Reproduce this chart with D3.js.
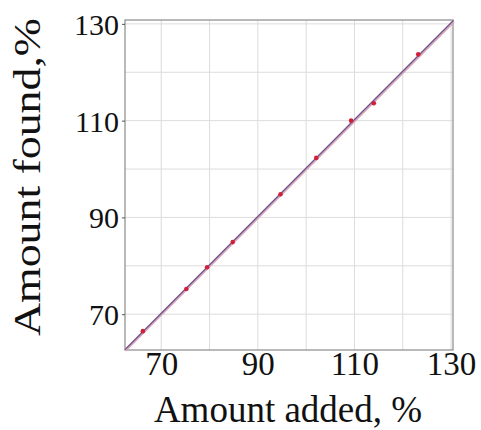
<!DOCTYPE html>
<html>
<head>
<meta charset="utf-8">
<script src="https://cdn.jsdelivr.net/npm/d3@7"></script>
<style>
  body { margin: 0; background: #fff; }
  text { font-family: "Liberation Serif", "Times New Roman", serif; fill: #111; }
</style>
</head>
<body>
<svg id="chart"></svg>
<script>
// measured points, % added vs % found
const added = [66.2, 75.2, 79.5, 84.8, 94.7, 102.1, 109.3, 114.0, 123.2];
const found = [66.5, 75.2, 79.7, 84.9, 94.8, 102.3, 110.0, 113.6, 123.7];
// ideal line and fitted line end points
const idealLine = [[62.5, 62.5], [130.5, 130.5]];
const fitLine = [[62.5, 62.7], [130.5, 130.7]];
const tickValues = [70, 90, 110, 130];
const gridValues = [70, 80, 90, 100, 110, 120, 130];

const width = 481, height = 430;
const margin = { top: 20, right: 28, bottom: 80, left: 125 };
const w = width - margin.left - margin.right;
const h = height - margin.top - margin.bottom;

const svg = d3.select("#chart").attr("width", width).attr("height", height);
const g = svg.append("g").attr("transform", `translate(${margin.left},${margin.top})`);

const x = d3.scaleLinear().domain([62.5, 130.4]).range([0, w]);
const y = d3.scaleLinear().domain([62.6, 130.8]).range([h, 0]);

// grid
g.append("g").selectAll("line").data(gridValues).enter().append("line")
  .attr("x1", d => x(d)).attr("x2", d => x(d)).attr("y1", 0).attr("y2", h)
  .attr("stroke", "#dcdcdc").attr("stroke-width", 1);
g.append("g").selectAll("line").data(gridValues).enter().append("line")
  .attr("y1", d => y(d)).attr("y2", d => y(d)).attr("x1", 0).attr("x2", w)
  .attr("stroke", "#dcdcdc").attr("stroke-width", 1);

// frame
g.append("rect").attr("width", w).attr("height", h)
  .attr("fill", "none").attr("stroke", "#8a8a8a").attr("stroke-width", 1.2);

// axes
const xAxis = g.append("g").attr("transform", `translate(0,${h})`)
  .call(d3.axisBottom(x).tickValues(tickValues).tickSize(0).tickPadding(0));
const yAxis = g.append("g")
  .call(d3.axisLeft(y).tickValues(tickValues).tickSize(3).tickPadding(3));
[xAxis, yAxis].forEach(a => {
  a.select(".domain").remove();
  a.selectAll("line").attr("stroke", "#555");
  a.selectAll("text").style("font-family", '"Liberation Serif", serif').attr("fill", "#111");
});
xAxis.selectAll("text").style("font-size", "33px").attr("dy", null).attr("y", 25);
yAxis.selectAll("text").style("font-size", "30px").attr("dy", "0.35em");

// lines
const line = d3.line().x(d => x(d[0])).y(d => y(d[1]));
g.append("path").datum(idealLine).attr("d", line)
  .attr("fill", "none").attr("stroke", "#d7a3b5").attr("stroke-width", 3);
g.append("path").datum(fitLine).attr("d", line)
  .attr("fill", "none").attr("stroke", "#5b4f8f").attr("stroke-width", 1.1);

// points
g.append("g").selectAll("circle").data(added).enter().append("circle")
  .attr("cx", d => x(d)).attr("cy", (d, i) => y(found[i])).attr("r", 2.3)
  .attr("fill", "#d0203c");

// titles
svg.append("text").attr("x", 288).attr("y", 422)
  .attr("text-anchor", "middle").style("font-size", "37px").text("Amount added, %");
svg.append("text").attr("transform", `translate(40,${177}) rotate(-90)`)
  .attr("text-anchor", "middle").style("font-size", "38px")
  .attr("textLength", 318).attr("lengthAdjust", "spacingAndGlyphs")
  .text("Amount found,%");
</script>
</body>
</html>
